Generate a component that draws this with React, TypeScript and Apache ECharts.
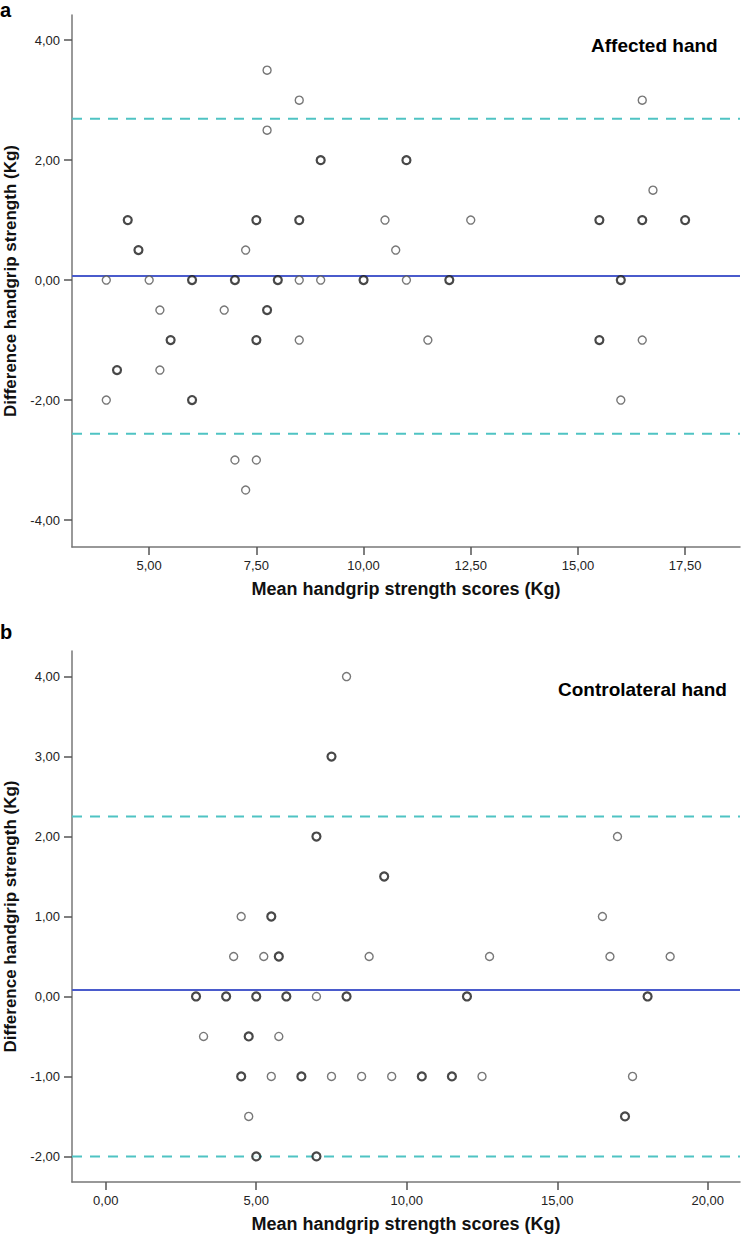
import React, { useEffect, useRef } from "react";
import * as echarts from "echarts";

// Panel a: Affected hand — single points and overlapping (bold) points [mean, difference]
const affectedSingle: number[][] = [
  [4.0, 0], [5.0, 0], [8.5, 0], [9.0, 0], [11.0, 0],
  [10.5, 1], [12.5, 1],
  [7.25, 0.5], [10.75, 0.5],
  [16.75, 1.5],
  [7.75, 2.5], [8.5, 3], [16.5, 3], [7.75, 3.5],
  [5.25, -0.5], [6.75, -0.5],
  [8.5, -1], [11.5, -1], [16.5, -1],
  [5.25, -1.5],
  [4.0, -2], [16.0, -2],
  [7.0, -3], [7.5, -3], [7.25, -3.5],
];
const affectedRepeated: number[][] = [
  [6.0, 0], [7.0, 0], [8.0, 0], [10.0, 0], [12.0, 0], [16.0, 0],
  [4.5, 1], [7.5, 1], [8.5, 1], [15.5, 1], [16.5, 1], [17.5, 1],
  [4.75, 0.5],
  [9.0, 2], [11.0, 2],
  [7.75, -0.5],
  [5.5, -1], [7.5, -1], [15.5, -1],
  [4.25, -1.5],
  [6.0, -2],
];
const affectedMean = 0.07;
const affectedUpper = 2.69;
const affectedLower = -2.56;
const affectedXTicks = [5, 7.5, 10, 12.5, 15, 17.5];
const affectedYTicks = [-4, -2, 0, 2, 4];

// Panel b: Controlateral hand
const controSingle: number[][] = [
  [8.0, 4], [17.0, 2],
  [4.5, 1], [16.5, 1],
  [4.25, 0.5], [5.25, 0.5], [8.75, 0.5], [12.75, 0.5], [16.75, 0.5], [18.75, 0.5],
  [7.0, 0],
  [3.25, -0.5], [5.75, -0.5],
  [5.5, -1], [7.5, -1], [8.5, -1], [9.5, -1], [12.5, -1], [17.5, -1],
  [4.75, -1.5],
];
const controRepeated: number[][] = [
  [7.5, 3], [7.0, 2], [9.25, 1.5], [5.5, 1], [5.75, 0.5],
  [3.0, 0], [4.0, 0], [5.0, 0], [6.0, 0], [8.0, 0], [12.0, 0], [18.0, 0],
  [4.75, -0.5],
  [4.5, -1], [6.5, -1], [10.5, -1], [11.5, -1],
  [17.25, -1.5],
  [5.0, -2], [7.0, -2],
];
const controMean = 0.08;
const controUpper = 2.25;
const controLower = -2.0;
const controXTicks = [0, 5, 10, 15, 20];
const controYTicks = [-2, -1, 0, 1, 2, 3, 4];

const xTitle = "Mean handgrip strength scores (Kg)";
const yTitle = "Difference handgrip strength (Kg)";

const FONT = "'Liberation Sans', Arial, sans-serif";
const fmt = (v: number) => v.toFixed(2).replace(".", ",");

function axisBase(ticks: number[], titleSize: number) {
  return {
    type: "value",
    axisLine: { show: true, onZero: false, lineStyle: { color: "#777", width: 1.5 } },
    axisTick: { show: true, length: 8, customValues: ticks, lineStyle: { color: "#555", width: 1.5 } },
    axisLabel: { customValues: ticks, formatter: fmt, color: "#222", fontSize: 13, fontFamily: FONT, margin: 12 },
    splitLine: { show: false },
    nameLocation: "middle",
    nameTextStyle: { fontSize: titleSize, fontWeight: "bold", color: "#111", fontFamily: FONT },
  };
}

function refLines(idx: number, mean: number, upper: number, lower: number, xmin: number, xmax: number) {
  const dashed = { color: "#4fc3c3", width: 2, type: [10, 8] };
  return [
    {
      type: "line", xAxisIndex: idx, yAxisIndex: idx, symbol: "none", silent: true, z: 1,
      data: [[xmin, upper], [xmax, upper]], lineStyle: dashed,
    },
    {
      type: "line", xAxisIndex: idx, yAxisIndex: idx, symbol: "none", silent: true, z: 1,
      data: [[xmin, lower], [xmax, lower]], lineStyle: dashed,
    },
    {
      type: "line", xAxisIndex: idx, yAxisIndex: idx, symbol: "none", silent: true, z: 1,
      data: [[xmin, mean], [xmax, mean]], lineStyle: { color: "#4a5bcc", width: 2 },
    },
  ];
}

function points(idx: number, single: number[][], repeated: number[][]) {
  return [
    {
      type: "scatter", xAxisIndex: idx, yAxisIndex: idx, symbol: "circle", symbolSize: 8, z: 3,
      data: single, itemStyle: { color: "#fff", borderColor: "#555", borderWidth: 1.4 },
    },
    {
      type: "scatter", xAxisIndex: idx, yAxisIndex: idx, symbol: "circle", symbolSize: 8, z: 4,
      data: repeated, itemStyle: { color: "#fff", borderColor: "#1a1a1a", borderWidth: 2.2 },
    },
  ];
}

export default function App() {
  const ref = useRef<HTMLDivElement>(null);
  useEffect(() => {
    if (!ref.current) return;
    const chart = echarts.init(ref.current, null, { renderer: "svg" });
    const aX = [3.2, 18.78];
    const bX = [-1.12, 21.07];
    chart.setOption({
      animation: false,
      backgroundColor: "#fff",
      grid: [
        { left: 72, top: 15, width: 668, height: 532, outerBoundsMode: "none", containLabel: false },
        { left: 72, top: 651, width: 668, height: 531, outerBoundsMode: "none", containLabel: false },
      ],
      xAxis: [
        { ...axisBase(affectedXTicks, 18), gridIndex: 0, min: aX[0], max: aX[1], name: xTitle, nameGap: 33 },
        { ...axisBase(controXTicks, 18), gridIndex: 1, min: bX[0], max: bX[1], name: xTitle, nameGap: 33 },
      ],
      yAxis: [
        { ...axisBase(affectedYTicks, 17), gridIndex: 0, min: -4.45, max: 4.42, name: yTitle, nameGap: 52 },
        { ...axisBase(controYTicks, 17), gridIndex: 1, min: -2.32, max: 4.32, name: yTitle, nameGap: 52 },
      ],
      series: [
        ...refLines(0, affectedMean, affectedUpper, affectedLower, aX[0], aX[1]),
        ...refLines(1, controMean, controUpper, controLower, bX[0], bX[1]),
        ...points(0, affectedSingle, affectedRepeated),
        ...points(1, controSingle, controRepeated),
      ],
      graphic: [
        { type: "text", left: 0, top: 0, style: { text: "a", font: `bold 20px ${FONT}`, fill: "#000" } },
        { type: "text", left: 0, top: 622, style: { text: "b", font: `bold 20px ${FONT}`, fill: "#000" } },
        { type: "text", left: 591, top: 36, style: { text: "Affected hand", font: `bold 19px ${FONT}`, fill: "#000" } },
        { type: "text", left: 558, top: 680, style: { text: "Controlateral hand", font: `bold 19px ${FONT}`, fill: "#000" } },
      ],
    });
    return () => chart.dispose();
  }, []);
  return (
    <div
      ref={ref}
      style={{ position: "fixed", left: 0, top: 0, width: 742, height: 1234, background: "#fff" }}
    />
  );
}
